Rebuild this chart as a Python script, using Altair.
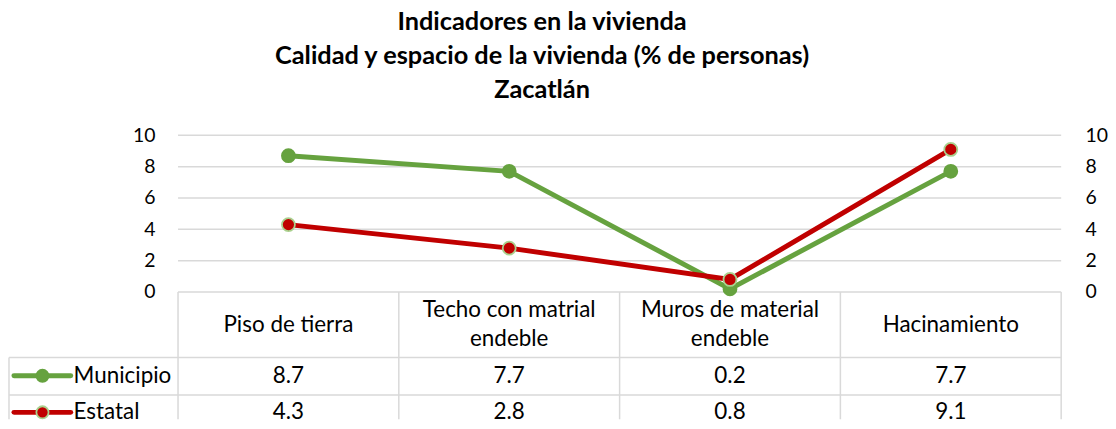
import altair as alt
import pandas as pd

# ---------------- data ----------------
categories = ["Piso de tierra", "Techo con matrial endeble", "Muros de material endeble", "Hacinamiento"]
header_lines = [["Piso de tierra"], ["Techo con matrial", "endeble"],
                ["Muros de material", "endeble"], ["Hacinamiento"]]
series_names = ["Municipio", "Estatal"]
municipio = [8.7, 7.7, 0.2, 7.7]
estatal = [4.3, 2.8, 0.8, 9.1]
y_ticks = [0, 2, 4, 6, 8, 10]
grid_ticks = [2, 4, 6, 8, 10]

line_colors = ["#66A23F", "#C00000"]
marker_fill = ["#66A23F", "#C00000"]
marker_edge = ["#66A23F", "#A9D18E"]

# ---------------- layout (data units of the shared scales) ----------------
X_LEFT, X_RIGHT = -1.2656, 3.5          # table legend column starts at X_LEFT
Y_MIN, Y_MAX = -8.12, 10                # table lives below y = 0
HEADER_BOTTOM, ROW1_BOTTOM = -4.18, -6.57
HEADER_Y = -2.09
HEADER_LINE_STEP = 1.84                 # line spacing of wrapped header text
ROW_Y = [-5.35, -7.68]
LEG_LINE = (-1.243, -0.986)
LEG_DOT = -1.114
LEG_LABEL = -0.973

FONT = "Lato"
TXT = 22.5
W, H = 1056, 285

xs = alt.Scale(domain=[X_LEFT, X_RIGHT], nice=False, zero=False)
ys = alt.Scale(domain=[Y_MIN, Y_MAX], nice=False, zero=False)

idx = list(range(len(categories)))
values = {"Municipio": municipio, "Estatal": estatal}

series_df = pd.DataFrame(
    [{"i": i, "serie": s, "v": values[s][i]} for s in series_names for i in idx]
)
table_vals = pd.DataFrame(
    [{"i": i, "serie": s, "v": values[s][i], "ry": ROW_Y[k]}
     for k, s in enumerate(series_names) for i in idx]
)
header_rows = []
for i, lines in enumerate(header_lines):
    n = len(lines)
    for j, t in enumerate(lines):
        header_rows.append({"i": i, "label": t,
                            "hy": HEADER_Y + ((n - 1) / 2 - j) * HEADER_LINE_STEP})
header_df = pd.DataFrame(header_rows)
grid_df = pd.DataFrame({"g": grid_ticks, "xa": [-0.5] * 5, "xb": [3.5] * 5})
axis_df = pd.DataFrame({"t": y_ticks, "x0": [0] * len(y_ticks)})

axis_common = dict(values=y_ticks, domain=False, ticks=False, grid=False,
                   labelFont=FONT, labelFontSize=19.5, labelColor="#000000",
                   title=None)
left_axis = alt.Axis(orient="left", offset=-(W * 0.7656 / 4.7656), labelPadding=23,
                     **axis_common)
right_axis = alt.Axis(orient="right", labelPadding=24, **axis_common)

# invisible layers that carry the two y axes
left_ax_layer = alt.Chart(axis_df).mark_point(opacity=0).encode(
    x=alt.X("x0:Q", scale=xs, axis=None),
    y=alt.Y("t:Q", scale=ys, axis=left_axis),
)
right_ax_layer = alt.Chart(axis_df).mark_point(opacity=0).encode(
    x=alt.X("x0:Q", scale=xs, axis=None),
    y=alt.Y("t:Q", scale=ys, axis=right_axis),
)

grid = alt.Chart(grid_df).mark_rule(color="#D9D9D9", strokeWidth=1.5).encode(
    x=alt.X("xa:Q", scale=xs, axis=None), x2="xb:Q",
    y=alt.Y("g:Q", scale=ys, axis=None),
)

# table borders
hlines_df = pd.DataFrame({
    "y": [0, HEADER_BOTTOM, ROW1_BOTTOM],
    "xa": [-0.5, X_LEFT, X_LEFT],
    "xb": [3.5, 3.5, 3.5],
})
vlines_df = pd.DataFrame({
    "x": [-0.5, 0.5, 1.5, 2.5, 3.5, X_LEFT],
    "ya": [0, 0, 0, 0, 0, HEADER_BOTTOM],
    "yb": [Y_MIN] * 6,
})
hlines = alt.Chart(hlines_df).mark_rule(color="#D9D9D9", strokeWidth=1.5).encode(
    x=alt.X("xa:Q", scale=xs, axis=None), x2="xb:Q",
    y=alt.Y("y:Q", scale=ys, axis=None),
)
vlines = alt.Chart(vlines_df).mark_rule(color="#D9D9D9", strokeWidth=1.5).encode(
    x=alt.X("x:Q", scale=xs, axis=None),
    y=alt.Y("ya:Q", scale=ys, axis=None), y2="yb:Q",
)

layers = [left_ax_layer, right_ax_layer, grid, hlines, vlines]

for k, s in enumerate(series_names):
    base = alt.Chart(series_df).transform_filter(alt.datum.serie == s)
    line = base.mark_line(color=line_colors[k], strokeWidth=5).encode(
        x=alt.X("i:Q", scale=xs, axis=None),
        y=alt.Y("v:Q", scale=ys, axis=None),
    )
    pts = base.mark_point(filled=True, fill=marker_fill[k], stroke=marker_edge[k],
                          strokeWidth=1.8, size=170, opacity=1).encode(
        x=alt.X("i:Q", scale=xs, axis=None),
        y=alt.Y("v:Q", scale=ys, axis=None),
    )
    layers += [line, pts]

    # legend glyph inside the table
    leg_df = pd.DataFrame({"xa": [LEG_LINE[0]], "xb": [LEG_LINE[1]], "xd": [LEG_DOT],
                           "xl": [LEG_LABEL], "ry": [ROW_Y[k]], "name": [s]})
    lg = alt.Chart(leg_df)
    layers += [
        lg.mark_rule(color=line_colors[k], strokeWidth=5, strokeCap="round").encode(
            x=alt.X("xa:Q", scale=xs, axis=None), x2="xb:Q",
            y=alt.Y("ry:Q", scale=ys, axis=None)),
        lg.mark_point(filled=True, fill=marker_fill[k], stroke=marker_edge[k],
                      strokeWidth=1.8, size=150, opacity=1).encode(
            x=alt.X("xd:Q", scale=xs, axis=None),
            y=alt.Y("ry:Q", scale=ys, axis=None)),
        lg.mark_text(align="left", baseline="middle", font=FONT, fontSize=TXT,
                     color="#000000").encode(
            x=alt.X("xl:Q", scale=xs, axis=None),
            y=alt.Y("ry:Q", scale=ys, axis=None),
            text="name:N"),
    ]

header = alt.Chart(header_df).mark_text(align="center", baseline="middle", font=FONT,
                                         fontSize=TXT, color="#000000").encode(
    x=alt.X("i:Q", scale=xs, axis=None),
    y=alt.Y("hy:Q", scale=ys, axis=None),
    text="label:N",
)
vals = alt.Chart(table_vals).mark_text(align="center", baseline="middle", font=FONT,
                                        fontSize=TXT, color="#000000").encode(
    x=alt.X("i:Q", scale=xs, axis=None),
    y=alt.Y("ry:Q", scale=ys, axis=None),
    text=alt.Text("v:Q", format=".1f"),
)
layers += [header, vals]

chart = alt.layer(*layers).resolve_scale(y="independent").properties(
    width=W, height=H,
    padding={"left": 0, "top": 1, "right": 0, "bottom": 0},
    title=alt.TitleParams(
        text=["Indicadores en la vivienda",
              "Calidad y espacio de la vivienda (% de personas)",
              "Zacatlán"],
        font=FONT, fontSize=25.4, fontWeight="bold", lineHeight=34,
        anchor="middle", color="#000000", offset=22, dx=7,
    ),
).configure_view(stroke=None)

chart.save("out.html", embed_options={"renderer": "svg", "actions": False})
